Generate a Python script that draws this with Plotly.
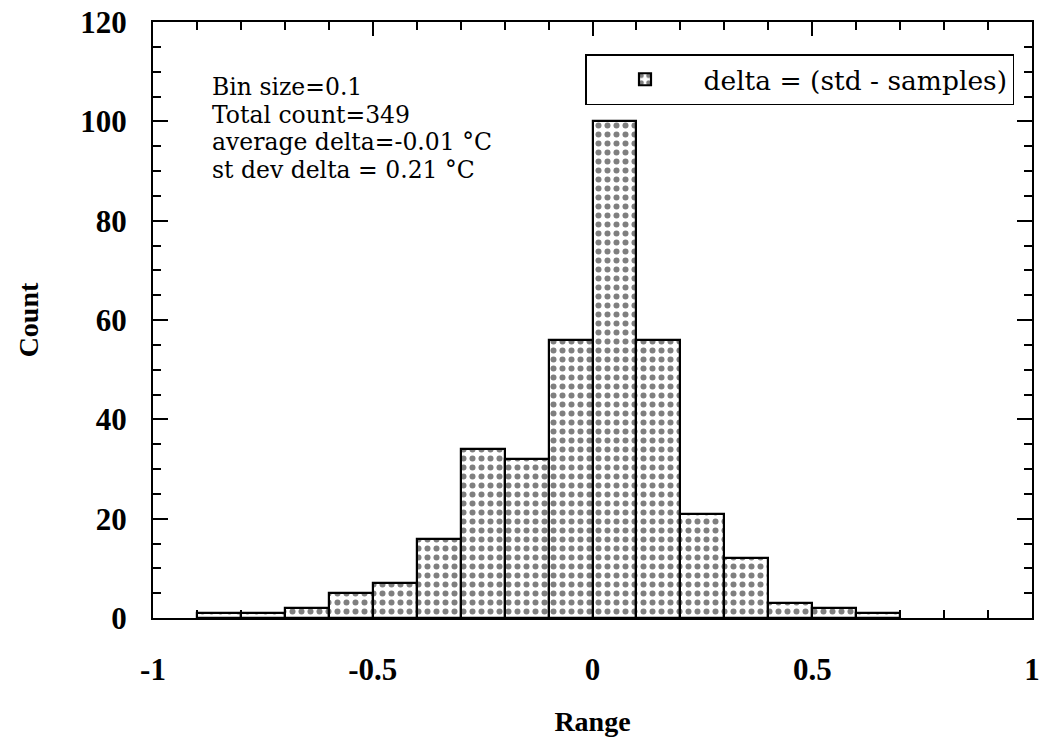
import plotly.graph_objects as go

# ---- data ----
bin_left = [-0.9, -0.8, -0.7, -0.6, -0.5, -0.4, -0.3, -0.2, -0.1, 0.0, 0.1, 0.2, 0.3, 0.4, 0.5, 0.6]
counts = [1, 1, 2, 5, 7, 16, 34, 32, 56, 100, 56, 21, 12, 3, 2, 1]
bin_size = 0.1
series_name = "delta = (std - samples)"
stats_lines = ["Bin size=0.1", "Total count=349", "average delta=-0.01 °C", "st dev delta = 0.21 °C"]
x_tickvals = [-1, -0.5, 0, 0.5, 1]
x_ticktext = ["-1", "-0.5", "0", "0.5", "1"]
y_tickvals = [0, 20, 40, 60, 80, 100, 120]

W, H = 1041, 752
L, R, T, B = 153, 9, 22, 134
plot_h = H - T - B
plot_w = W - L - R

SERIF = "Liberation Serif, Times New Roman, serif"
WIDE = "DejaVu Serif, serif"

fig = go.Figure()
fig.add_trace(go.Bar(
    x=bin_left, y=counts, width=bin_size, offset=0,
    name=series_name,
    marker=dict(color="white",
                line=dict(color="black", width=2.2),
                pattern=dict(shape=".", fgcolor="black", bgcolor="white", size=9, solidity=0.35)),
    showlegend=True,
))

# stats block: one annotation, base size sets line spacing, spans set glyph size
stats_text = "<br>".join('<span style="font-size:23.5px">%s</span>' % s for s in stats_lines)
fig.add_annotation(x=(210 - L) / plot_w, y=(T + plot_h - 128) / plot_h,
                   xref="paper", yref="paper", xanchor="left", yanchor="middle",
                   align="left",
                   text=stats_text, showarrow=False,
                   font=dict(family=WIDE, size=21.2, color="black"))

fig.update_layout(
    width=W, height=H,
    margin=dict(l=L, r=R, t=T, b=B, autoexpand=False),
    paper_bgcolor="white", plot_bgcolor="white",
    bargap=0,
    showlegend=True,
    legend=dict(x=(585 - L) / plot_w, y=(T + plot_h - 54) / plot_h, xanchor="left", yanchor="top",
                bordercolor="black", borderwidth=1.5, bgcolor="white",
                font=dict(family=WIDE, size=26.5, color="black"),
                itemwidth=107),
    xaxis=dict(range=[-1, 1], tickmode="array", tickvals=x_tickvals, ticktext=x_ticktext,
               ticks="inside", ticklen=14, tickwidth=2, tickcolor="black",
               minor=dict(dtick=0.1, ticks="inside", ticklen=8, tickwidth=1.5, tickcolor="black"),
               showline=True, linewidth=2, linecolor="black", mirror="allticks",
               showgrid=False, zeroline=False,
               tickfont=dict(family=SERIF, size=31, color="black", weight="bold"),
               ticklabelstandoff=23, ticklabeloverflow="allow",
               title=dict(text="Range", font=dict(family=SERIF, size=28, color="black", weight="bold"),
                          standoff=25)),
    yaxis=dict(range=[0, 120], tickmode="array", tickvals=y_tickvals,
               ticks="inside", ticklen=15, tickwidth=2, tickcolor="black",
               minor=dict(dtick=5, ticks="inside", ticklen=8, tickwidth=1.5, tickcolor="black"),
               showline=True, linewidth=2, linecolor="black", mirror="allticks",
               showgrid=False, zeroline=False,
               tickfont=dict(family=SERIF, size=31, color="black", weight="bold"),
               ticklabelstandoff=18,
               title=dict(text="Count", font=dict(family=SERIF, size=28, color="black", weight="bold"),
                          standoff=33)),
)

# the page's default 8px body margin would shift the figure; remove it
fig.write_html("out.html", config={"displayModeBar": False},
               post_script="document.body.style.margin='0px';")
